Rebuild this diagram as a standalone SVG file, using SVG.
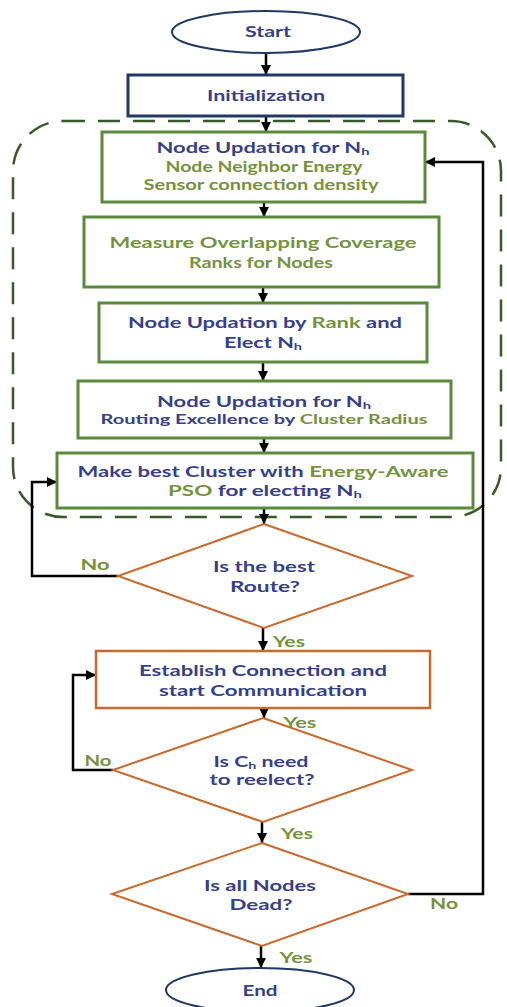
<svg xmlns="http://www.w3.org/2000/svg" width="507" height="1007" viewBox="0 0 507 1007">
<style>
text{font-family:Lato,"Open Sans","Liberation Sans",sans-serif;font-weight:bold;font-size:15px;text-anchor:middle}
.b{fill:#353f8c}
.g{fill:#76923c}
.sub{font-size:10px}
.gbox{fill:#fff;stroke:#5a8a3c;stroke-width:3}
.obox{fill:#fff;stroke:#c86a2c;stroke-width:2.5}
.nbox{fill:#fff;stroke:#1f3864;stroke-width:3}
.c{fill:none;stroke:#000;stroke-width:2.5}
</style>
<defs>
<marker id="ah" viewBox="0 0 10 10" refX="10" refY="5" markerWidth="4" markerHeight="4" orient="auto" markerUnits="strokeWidth">
<path d="M0,0 L10,5 L0,10 z" fill="#000"/>
</marker>
</defs>
<rect x="13" y="121" width="488" height="396" rx="50" fill="none" stroke="#375a28" stroke-width="2.5" stroke-dasharray="22 13"/>
<g id="connectors" class="c">
<line x1="266" y1="53" x2="266" y2="75" marker-end="url(#ah)"/>
<line x1="266" y1="116" x2="266" y2="132" marker-end="url(#ah)"/>
<line x1="264" y1="202" x2="264" y2="217" marker-end="url(#ah)"/>
<line x1="263" y1="287" x2="263" y2="303" marker-end="url(#ah)"/>
<line x1="263" y1="362" x2="263" y2="381" marker-end="url(#ah)"/>
<line x1="264" y1="438" x2="264" y2="453" marker-end="url(#ah)"/>
<line x1="264" y1="508" x2="264" y2="524" marker-end="url(#ah)"/>
<line x1="263" y1="628" x2="263" y2="651" marker-end="url(#ah)"/>
<line x1="264" y1="708" x2="264" y2="718" marker-end="url(#ah)"/>
<line x1="262" y1="822" x2="262" y2="843" marker-end="url(#ah)"/>
<line x1="261" y1="946" x2="261" y2="968" marker-end="url(#ah)"/>
<polyline points="118,576 32,576 32,482 57,482" marker-end="url(#ah)"/>
<polyline points="113,770 73,770 73,675 96,675" marker-end="url(#ah)"/>
<polyline points="408,894 483,894 483,162 425,162" marker-end="url(#ah)"/>
</g>
<g id="start">
<ellipse cx="266" cy="32" rx="94" ry="21" fill="#fff" stroke="#1f3864" stroke-width="2"/>
<text x="268" y="37" class="b" textLength="46" lengthAdjust="spacingAndGlyphs">Start</text>
</g>
<g id="init">
<rect x="128" y="75" width="275" height="41" class="nbox"/>
<text x="266" y="101" class="b" textLength="118" lengthAdjust="spacingAndGlyphs">Initialization</text>
</g>
<g id="box1">
<rect x="102" y="132" width="323" height="70" class="gbox"/>
<text x="263" y="153" class="b" textLength="213" lengthAdjust="spacingAndGlyphs">Node Updation for N<tspan class="sub" dy="2">h</tspan></text>
<text x="264" y="172" class="g" textLength="197" lengthAdjust="spacingAndGlyphs">Node Neighbor Energy</text>
<text x="261" y="190" class="g" textLength="235" lengthAdjust="spacingAndGlyphs">Sensor connection density</text>
</g>
<g id="box2">
<rect x="84" y="217" width="355" height="70" class="gbox"/>
<text x="263" y="248" class="g" textLength="307" lengthAdjust="spacingAndGlyphs">Measure Overlapping Coverage</text>
<text x="261" y="268" class="g" textLength="144" lengthAdjust="spacingAndGlyphs">Ranks for Nodes</text>
</g>
<g id="box3">
<rect x="99" y="303" width="328" height="59" class="gbox"/>
<text x="265" y="328" class="b" textLength="274" lengthAdjust="spacingAndGlyphs">Node Updation by <tspan class="g">Rank</tspan> and</text>
<text x="263" y="348" class="b" textLength="78" lengthAdjust="spacingAndGlyphs">Elect N<tspan class="sub" dy="2">h</tspan></text>
</g>
<g id="box4">
<rect x="78" y="381" width="373" height="57" class="gbox"/>
<text x="264" y="407" class="b" textLength="214" lengthAdjust="spacingAndGlyphs">Node Updation for N<tspan class="sub" dy="2">h</tspan></text>
<text x="264" y="424" class="b" style="font-size:14px" textLength="327" lengthAdjust="spacingAndGlyphs">Routing Excellence by <tspan class="g">Cluster Radius</tspan></text>
</g>
<g id="box5">
<rect x="57" y="453" width="416" height="55" class="gbox"/>
<text x="263" y="477" class="b" textLength="371" lengthAdjust="spacingAndGlyphs">Make best Cluster with <tspan class="g">Energy-Aware</tspan></text>
<text x="265" y="496" class="b" textLength="194" lengthAdjust="spacingAndGlyphs"><tspan class="g">PSO</tspan>  for electing N<tspan class="sub" dy="2">h</tspan></text>
</g>
<g id="d1">
<polygon points="264,524 412,576 264,628 118,576" fill="#fff" stroke="#c86a2c" stroke-width="2"/>
<text x="264" y="572" class="b" textLength="102" lengthAdjust="spacingAndGlyphs">Is the best</text>
<text x="265" y="592" class="b" textLength="70" lengthAdjust="spacingAndGlyphs">Route?</text>
</g>
<g id="box6">
<rect x="96" y="651" width="334" height="57" class="obox"/>
<text x="263" y="676" class="b" textLength="248" lengthAdjust="spacingAndGlyphs">Establish Connection and</text>
<text x="263" y="696" class="b" textLength="208" lengthAdjust="spacingAndGlyphs">start Communication</text>
</g>
<g id="d2">
<polygon points="263,718 412,770 263,822 113,770" fill="#fff" stroke="#c86a2c" stroke-width="2"/>
<text x="261" y="767" class="b" textLength="95" lengthAdjust="spacingAndGlyphs">Is C<tspan class="sub" dy="2">h</tspan><tspan dy="-2"> need</tspan></text>
<text x="262" y="785" class="b" textLength="105" lengthAdjust="spacingAndGlyphs">to reelect?</text>
</g>
<g id="d3">
<polygon points="262,843 408,894 262,946 112,894" fill="#fff" stroke="#c86a2c" stroke-width="2"/>
<text x="260" y="891" class="b" textLength="112" lengthAdjust="spacingAndGlyphs">Is all Nodes</text>
<text x="261" y="910" class="b" textLength="63" lengthAdjust="spacingAndGlyphs">Dead?</text>
</g>
<g id="end">
<ellipse cx="260" cy="990" rx="94" ry="22" fill="#fff" stroke="#1f3864" stroke-width="2"/>
<text x="260" y="996" class="b" textLength="35" lengthAdjust="spacingAndGlyphs">End</text>
</g>
<g id="labels">
<text x="95" y="570" class="g" textLength="29" lengthAdjust="spacingAndGlyphs">No</text>
<text x="289" y="647" class="g" textLength="32" lengthAdjust="spacingAndGlyphs">Yes</text>
<text x="300" y="728" class="g" textLength="33" lengthAdjust="spacingAndGlyphs">Yes</text>
<text x="98" y="766" class="g" textLength="27" lengthAdjust="spacingAndGlyphs">No</text>
<text x="297" y="839" class="g" textLength="32" lengthAdjust="spacingAndGlyphs">Yes</text>
<text x="444" y="909" class="g" textLength="28" lengthAdjust="spacingAndGlyphs">No</text>
<text x="296" y="963" class="g" textLength="33" lengthAdjust="spacingAndGlyphs">Yes</text>
</g>
</svg>
